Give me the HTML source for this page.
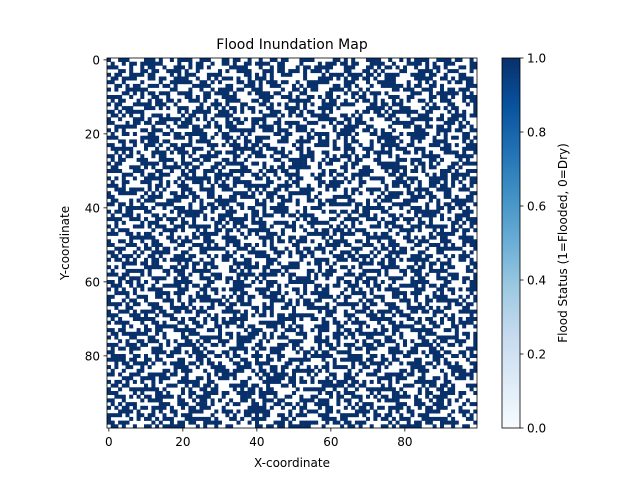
<!DOCTYPE html>
<html><head><meta charset="utf-8"><style>
body{margin:0;background:#fff;}
svg text{font-family:"DejaVu Sans","Liberation Sans",sans-serif;fill:#000;}
</style></head><body>
<svg id="chart" width="640" height="480" viewBox="0 0 640 480" xmlns="http://www.w3.org/2000/svg">
<defs><linearGradient id="blues" x1="0" y1="1" x2="0" y2="0">
<stop offset="0" stop-color="#f7fbff"/><stop offset="0.125" stop-color="#deebf7"/><stop offset="0.25" stop-color="#c6dbef"/><stop offset="0.375" stop-color="#9ecae1"/><stop offset="0.5" stop-color="#6baed6"/><stop offset="0.625" stop-color="#4292c6"/><stop offset="0.75" stop-color="#2171b5"/><stop offset="0.875" stop-color="#08519c"/><stop offset="1" stop-color="#08306b"/></linearGradient></defs>
<text x="292" y="49" font-size="14" text-anchor="middle">Flood Inundation Map</text>
<g id="cells"></g>
<rect x="107" y="58" width="370" height="370" fill="none" stroke="#000" stroke-width="0.8"/>
<g id="axes"></g>
<text x="292" y="467" font-size="12" text-anchor="middle">X-coordinate</text>
<text x="0" y="0" font-size="12" text-anchor="middle" transform="translate(69,243) rotate(-90)">Y-coordinate</text>
<rect x="502" y="58" width="18" height="370" fill="url(#blues)" stroke="#000" stroke-width="0.8"/>
<g id="cbar"></g>
<text x="0" y="0" font-size="12" text-anchor="middle" transform="translate(567,243) rotate(-90)">Flood Status (1=Flooded, 0=Dry)</text>
</svg>
<script>
const rows = [
"9C3A5E71B24D8F06A3C95E7B2","4B7E12C9A6F3085DB1E47A9C3","E2593AD07C4B16F8E35A92D1B","1A6CF4829E3B75D0C6A18F4E2","B3D8571E06A9C42F7B5E3D918",
"6F1B3C95D2E8047AB69C1F35E","C8427E6A1B5D93F0E27C4A8B6","359DA1F0C74E2B86D13F59A07","A7E0624BD9C1358F4A06E72DC","0D5B9E37A2F64C18B5D0397EA",
"F24C86B1E079D35A2C8E61B4F","5896D3A4F1B07E2C96A54D38B","B1F7204E8C6A953DE1B7028C5","2E3A9CD56B18F47A03E9C5D61","D7C015F3A94E6B2816D7F30A9",
"6A4E8B27C03D59F1A86C4E27B","91D3F6A8B5E2047CD91A3F6E8","C5B72E14D9A6F38B5C07E21D4","3F089DB6E17A5C24F308DB69A","A86E41C27F3B9D05E6A41C7B3",
"4D19B7E58A06C2F3D1B97E50C","E07C3A69D4F18B52A07E3C96D","1B5D82F0A6C39E74B15D28F0A","C93A6E1D75B028F4C93E61DA7","7E24B9C83F5D1A06E72B9C38F",
"2A8F5D16E9C74B30A2F8D51E9","D64B0A7C32E98F15D64A07C3E","58E3C9B1A4067D2E58C3B9A14","B07D2E46F9A13C58B07E2D46F","63A9F58D0C2B7E41A63F958D0",
"F1C64B3A7E5D902C8F16B43A7","0E5B8D27C9A4F16B3E0D82B7C","A93E17F6B0D258C4A9E371F6B","4C72A9D53E18B06F4C27A9D53","E8169C4BA7F3D25E0816C9B4A",
"3BD50E79C2A68F14B3D05E79C","9F2A6B183D5C7E40A92F6B183","C05E3D9A6F1B4287C05E3D9A6","62B8F147E0A9D35C62B8F147E","DA47C25B98E3106FDA47C25B9",
"17E93A6D4B2F85C017E93A6D4","B6305FC8E1A7942DB6305FC8E","4E8D17A3C5B96F024E8D17A3C","F3A6E92B7D40158CF3A6E92B7","285C4D06B9E7A3F1285C4D06B",
"A1D73BF52C68E90AA1D73BF52","5C09E8A6D3F124B75C09E8A6D","E6B2417C8A9D03F5E6B2417C8","03F8D5B1E47A6C2903F8D5B1E","9A4C6E38F02B5D179A4C6E38F",
"C72E19D4B6A8305EC72E19D4B","38B5A27F1D0C96E438B5A27F1","D14F8C60A3E75B29D14F8C60A","6E9A3B15C8F24D076E9A3B15C","B52D7E49A61C08F3B52D7E49A",
"0F6C15B83E9A72D40F6C15B83","A83E6D2C57B1F049A83E6D2C5","47D1B9F06A2E835C47D1B9F06","EC509A4E1F7D62B8EC509A4E1","1B8F2C76D4A05E931B8F2C76D",
"D6A43E18B95C7F02D6A43E18B","72C9F5B03E1A84D672C9F5B03","A95E1C6D78F234B0A95E1C6D7","3D07B8A42C6E95F13D07B8A42","C4E692F15B3D087AC4E692F15",
"8B21D37E9A0F56C48B21D37E9","F59C4A0B6E28D713F59C4A0B6","260E7D58C1B9A3F4260E7D58C","9D7B36E1F4A8205C9D7B36E1F","E3A5C0942D6B7F18E3A5C0942",
"51F86B2D7C03E9A451F86B2D7","BC4D19A5E87F2036BC4D19A5E","0A27E4C69B1D58F30A27E4C69","D8B63F1A05C4E972D8B63F1A0","6FE50B82D3A91C476FE50B82D",
"A3190C7E5F2B84D6A3190C7E5","14DCA6B39E5078F214DCA6B39","E7629F4D18C3B05AE7629F4D1","5B8E31A07D6F294C5B8E31A07","C20F75D9A48E16B3C20F75D9A",
"79A4C2E6B1D305F879A4C2E6B","FB3618D04C9A7E25FB3618D04","2DE97B5A36F0C8142DE97B5A3","A6503C8F1E4D92B7A6503C8F1","48C1AE27B96D3F5048C1AE27B",
"D39F6415E0B7A28CD39F6415E","0E7B8CD3A25F6914E07B8CD3A","B54A1F980C3E6D7BB54A1F980","6C28E5B47D91A03F6C28E5B47","93FD0A6C2B5817E493FD0A6C2",
"E1468B3D9F7C205AE1468B3D9","3AB7D2F10E64C98B3AB7D2F10","C85E196A4D3B0F72C85E196A4","57039CE8B1A6D4F257039CE8B","AD6F4B7103E92C58AD6F4B710",
"1E8A63C5D7F04B9A1E8A63C5D","F4D92E08A6B35C71F4D92E08A","82B5C7F469E1A03D82B5C7F46","DC0A5B3E12874F96DC0A5B3E1","6935F8A4C0DB7E216935F8A4C"
];
const xTicks = [0,20,40,60,80];
const yTicks = [0,20,40,60,80];
const cbTicks = ["0.0","0.2","0.4","0.6","0.8","1.0"];
const NS="http://www.w3.org/2000/svg";
const X0=107,Y0=58,SZ=370,N=100,CW=SZ/N;
const xs=i=>X0+i*CW, ys=j=>Y0+j*CW;
const cells=document.getElementById('cells');
rows.forEach((r,j)=>{
  let bits=r.split('').map(h=>parseInt(h,16).toString(2).padStart(4,'0')).join('').slice(0,N);
  for(let i=0;i<bits.length;i++){
    if(bits[i]!=='1')continue;
    const c=document.createElementNS(NS,'rect');
    c.setAttribute('x',xs(i));c.setAttribute('y',ys(j));
    c.setAttribute('width',CW+0.3);c.setAttribute('height',CW+0.3);
    c.setAttribute('fill','#08306b');
    
    
    cells.appendChild(c);
  }
});
const ax=document.getElementById('axes');
function add(tag,attrs,txt){const e=document.createElementNS(NS,tag);for(const k in attrs)e.setAttribute(k,attrs[k]);if(txt!==undefined)e.textContent=txt;ax.appendChild(e);return e;}
xTicks.forEach(v=>{
  const x=xs(v+0.5);
  const l=add('line',{x1:x,x2:x,y1:428,y2:431.5,stroke:'#000','stroke-width':0.8});
  
  
  const t=add('text',{x:x,y:446,'font-size':12,'text-anchor':'middle'},String(v));
  
  
});
yTicks.forEach(v=>{
  const y=ys(v+0.5);
  const l=add('line',{x1:103.5,x2:107,y1:y,y2:y,stroke:'#000','stroke-width':0.8});
  
  
  const t=add('text',{x:100,y:y+4.5,'font-size':12,'text-anchor':'end'},String(v));
  
  
});
cbTicks.forEach(v=>{
  const y=428-parseFloat(v)*370;
  const l=add('line',{x1:520,x2:523.5,y1:y,y2:y,stroke:'#000','stroke-width':0.8});
  
  
  const t=add('text',{x:527,y:y+4.5,'font-size':12},v);
  
  
});
</script>
</body></html>
